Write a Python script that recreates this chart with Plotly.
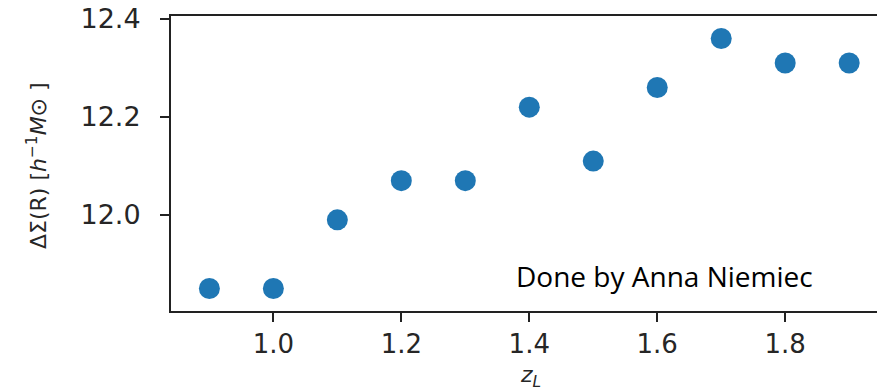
import plotly.graph_objects as go

z_L = [0.9, 1.0, 1.1, 1.2, 1.3, 1.4, 1.5, 1.6, 1.7, 1.8, 1.9]
delta_sigma = [11.85, 11.85, 11.99, 12.07, 12.07, 12.22, 12.11, 12.26, 12.36, 12.31, 12.31]
x_ticks = [1.0, 1.2, 1.4, 1.6, 1.8]
y_ticks = [12.0, 12.2, 12.4]

fig = go.Figure()
fig.add_trace(go.Scatter(
    x=z_L, y=delta_sigma, mode="markers",
    marker=dict(color="#1f77b4", size=21, line=dict(width=0)),
    showlegend=False,
))

OFF = 8  # page body margin offset
W, H = 885, 389
# plot-area edges in screenshot pixels
px_left, px_right, px_top, px_bottom = 171, 885, 16, 311
L = px_left - OFF
R = W + OFF - px_right
T = px_top - OFF
B = H + OFF - px_bottom


def fx(x):
    return (x - px_left) / (px_right - px_left)


def fy(y):
    return (px_bottom - y) / (px_bottom - px_top)


fig.update_layout(
    width=W, height=H,
    margin=dict(l=L, r=R, t=T, b=B, autoexpand=False),
    paper_bgcolor="white", plot_bgcolor="white",
    xaxis=dict(range=[0.84, 1.956], tickvals=x_ticks, ticktext=[f"{v:.1f}" for v in x_ticks],
               showgrid=False, zeroline=False, showline=True, linecolor="#222", linewidth=2,
               mirror=True, ticks="outside", ticklen=9, tickwidth=2, tickcolor="#222",
               tickfont=dict(family="DejaVu Sans", size=26, color="#262626"),
               automargin=False, ticklabelstandoff=0, ticklabeloverflow="allow"),
    yaxis=dict(range=[11.804, 12.406], tickvals=y_ticks, ticktext=[f"{v:.1f}" for v in y_ticks],
               showgrid=False, zeroline=False, showline=True, linecolor="#222", linewidth=2,
               ticks="outside", ticklen=9, tickwidth=2, tickcolor="#222",
               tickfont=dict(family="DejaVu Sans", size=27, color="#262626"),
               automargin=False, ticklabelstandoff=14, ticklabeloverflow="allow"),
    annotations=[
        dict(text="ΔΣ(R) [<i>h</i><sup>−1</sup><i>M</i>⊙ ]", textangle=-90,
             xref="paper", yref="paper", x=fx(37), y=fy(166),
             xanchor="center", yanchor="middle",
             showarrow=False, font=dict(family="DejaVu Sans", size=22, color="#262626")),
        dict(text="<i>z</i><sub><i>L</i></sub>", xref="paper", yref="paper",
             x=fx(530), y=fy(376), xanchor="center", yanchor="middle",
             showarrow=False, font=dict(family="DejaVu Sans", size=22, color="#262626")),
        dict(text="Done by Anna Niemiec", xref="paper", yref="paper",
             x=fx(514), y=fy(276), xanchor="left", yanchor="middle",
             showarrow=False, font=dict(family="Open Sans", size=28, color="black")),
    ],
)

fig.write_html("out.html")
